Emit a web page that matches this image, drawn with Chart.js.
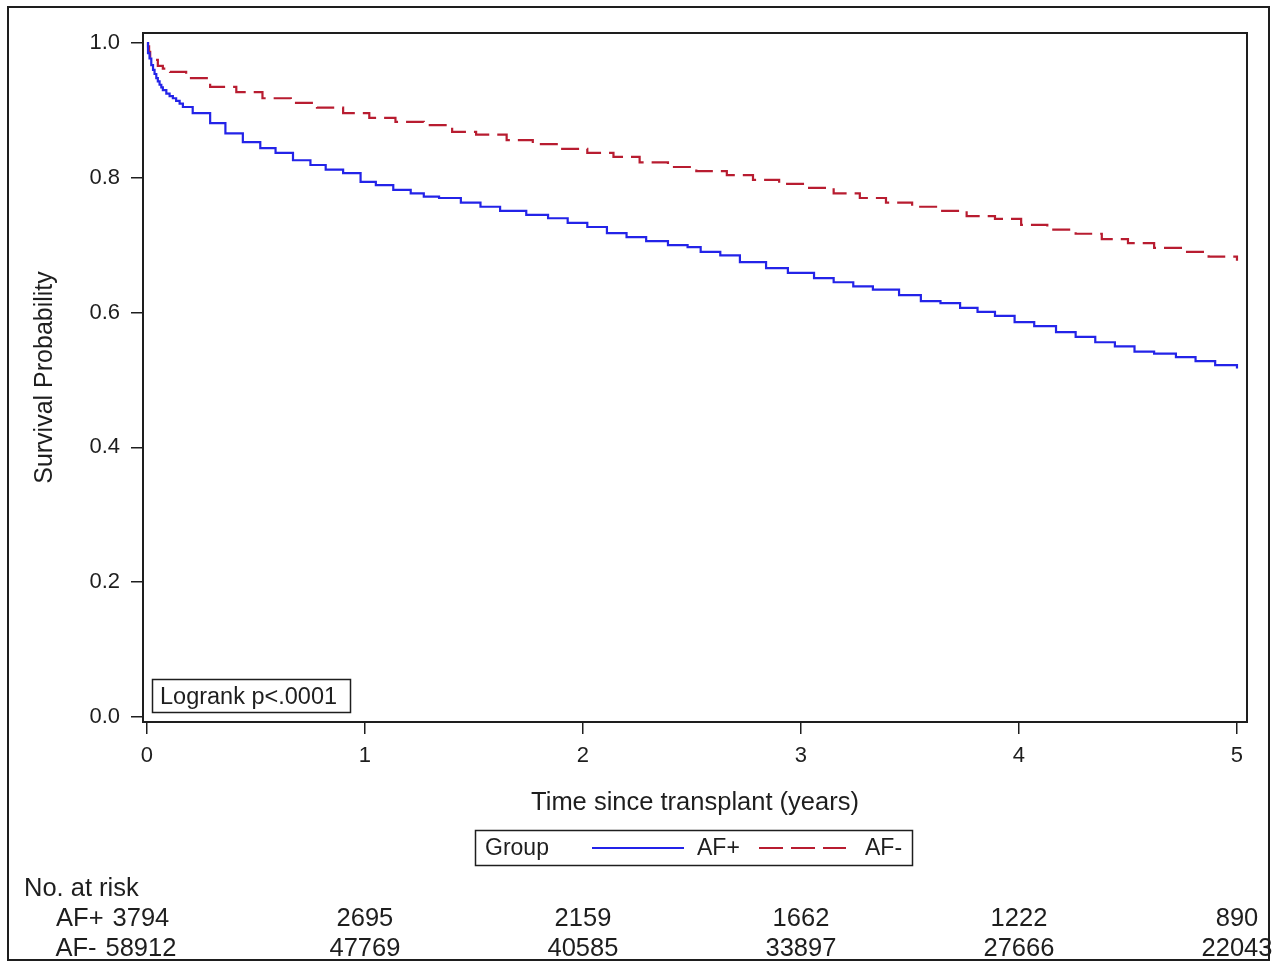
<!DOCTYPE html>
<html>
<head>
<meta charset="utf-8">
<title>Survival by AF group</title>
<script src="https://cdn.jsdelivr.net/npm/chart.js@4.4.0/dist/chart.umd.min.js"></script>
<style>
	html, body { margin: 0; padding: 0; background: #fff; }
</style>
</head>
<body>
<canvas id="km-chart" width="1282" height="962"></canvas>
<script>
// Kaplan-Meier estimates (years, survival)
var afPosTime = [0, 0.005, 0.012, 0.020, 0.028, 0.035, 0.043, 0.050, 0.058, 0.066, 0.073, 0.089, 0.104, 0.119, 0.134, 0.150, 0.165,
	0.21, 0.29, 0.36, 0.44, 0.52, 0.59, 0.67, 0.75, 0.82, 0.90, 0.98,
	1.05, 1.13, 1.21, 1.27, 1.34, 1.44, 1.53, 1.62, 1.74, 1.84, 1.93, 2.02, 2.11, 2.20, 2.29, 2.39, 2.48, 2.54,
	2.63, 2.72, 2.84, 2.94, 3.06, 3.15, 3.24, 3.33, 3.45, 3.55, 3.64, 3.73, 3.81, 3.89, 3.98, 4.07, 4.17, 4.26,
	4.35, 4.44, 4.53, 4.62, 4.72, 4.81, 4.90, 5.00];
var afPosSurv = [1.0, 0.985, 0.977, 0.967, 0.960, 0.954, 0.948, 0.943, 0.938, 0.934, 0.930, 0.925, 0.921, 0.918, 0.914, 0.910, 0.905,
	0.896, 0.881, 0.866, 0.853, 0.844, 0.837, 0.826, 0.819, 0.812, 0.807, 0.794,
	0.789, 0.782, 0.777, 0.772, 0.770, 0.763, 0.757, 0.751, 0.745, 0.740, 0.733, 0.727, 0.718, 0.712, 0.706, 0.700, 0.697, 0.690,
	0.685, 0.675, 0.666, 0.659, 0.651, 0.645, 0.639, 0.634, 0.626, 0.617, 0.614, 0.607, 0.601, 0.595, 0.586, 0.580, 0.571, 0.564,
	0.556, 0.550, 0.542, 0.539, 0.534, 0.528, 0.522, 0.517];
var afNegTime = [0, 0.005, 0.010, 0.015, 0.035, 0.050, 0.073, 0.106, 0.18, 0.29, 0.41, 0.53, 0.66, 0.78, 0.90, 1.02, 1.14, 1.27, 1.40, 1.51,
	1.65, 1.77, 1.89, 2.02, 2.14, 2.26, 2.39, 2.52, 2.66, 2.78, 2.90, 3.03, 3.15, 3.27, 3.39, 3.51, 3.64, 3.76,
	3.89, 4.01, 4.13, 4.26, 4.38, 4.50, 4.62, 4.75, 4.87, 5.00];
var afNegSurv = [1.0, 0.995, 0.987, 0.977, 0.975, 0.966, 0.962, 0.957, 0.948, 0.935, 0.927, 0.918, 0.911, 0.904, 0.896, 0.889, 0.883, 0.878, 0.868, 0.864,
	0.856, 0.850, 0.843, 0.837, 0.831, 0.823, 0.816, 0.810, 0.804, 0.797, 0.791, 0.785, 0.777, 0.770, 0.763, 0.757, 0.751, 0.743,
	0.739, 0.730, 0.723, 0.717, 0.709, 0.703, 0.696, 0.690, 0.683, 0.677];

var groupNames = ["AF+", "AF-"];
var xTicks = [0, 1, 2, 3, 4, 5];
var yTicks = [0, 0.2, 0.4, 0.6, 0.8, 1.0];
var riskTimes = [0, 1, 2, 3, 4, 5];
var riskAfPos = [3794, 2695, 2159, 1662, 1222, 890];
var riskAfNeg = [58912, 47769, 40585, 33897, 27666, 22043];
var pValueText = "Logrank p<.0001";

var fontFamily = "'Liberation Sans', Arial, sans-serif";
var ink = "#1e1e1e";

function toPoints(times, surv) {
	var pts = [];
	for (var i = 0; i < times.length; i++) {
		pts.push({ x: times[i], y: surv[i] });
	}
	return pts;
}

function setTicks(values) {
	return function (scale) {
		scale.ticks = values.map(function (v) { return { value: v }; });
	};
}

// frames, p-value box, legend and risk table
var extras = {
	id: "extras",
	afterDraw: function (chart) {
		var ctx = chart.ctx;
		var a = chart.chartArea;
		var xs = chart.scales.x;
		var ds = chart.data.datasets;
		ctx.save();
		ctx.strokeStyle = ink;
		ctx.lineWidth = 2;
		ctx.strokeRect(a.left, a.top, a.right - a.left, a.bottom - a.top);
		ctx.strokeRect(8, 7, 1261, 953);

		ctx.fillStyle = ink;
		ctx.textBaseline = "alphabetic";

		// logrank box
		ctx.lineWidth = 1.5;
		ctx.strokeRect(152.5, 679.5, 198, 33);
		ctx.font = "23.5px " + fontFamily;
		ctx.textAlign = "left";
		ctx.fillText(pValueText, 160, 704);

		// legend
		ctx.font = "23px " + fontFamily;
		ctx.strokeRect(475.5, 830.5, 437, 35);
		ctx.fillText("Group", 485, 855);
		ctx.lineWidth = 2;
		ctx.strokeStyle = ds[0].borderColor;
		ctx.beginPath();
		ctx.moveTo(592, 848);
		ctx.lineTo(684, 848);
		ctx.stroke();
		ctx.fillText(groupNames[0], 697, 855);
		ctx.strokeStyle = ds[1].borderColor;
		ctx.setLineDash([24, 8]);
		ctx.beginPath();
		ctx.moveTo(759, 848);
		ctx.lineTo(846, 848);
		ctx.stroke();
		ctx.setLineDash([]);
		ctx.fillText(groupNames[1], 865, 855);

		// number at risk
		ctx.font = "25.5px " + fontFamily;
		ctx.fillText("No. at risk", 24, 896);
		var rows = [riskAfPos, riskAfNeg];
		var rowY = [926, 956];
		for (var r = 0; r < rows.length; r++) {
			for (var i = 0; i < riskTimes.length; i++) {
				var px = xs.getPixelForValue(riskTimes[i]);
				var txt = String(rows[r][i]);
				if (i === 0) {
					px -= 6;
				}
				ctx.textAlign = "center";
				ctx.fillText(txt, px, rowY[r]);
				if (i === 0) {
					ctx.textAlign = "right";
					ctx.fillText(groupNames[r], px - ctx.measureText(txt).width / 2 - 9, rowY[r]);
				}
			}
		}
		ctx.restore();
	}
};

var chart = new Chart(document.getElementById("km-chart").getContext("2d"), {
	type: "line",
	data: {
		datasets: [
			{
				label: groupNames[0],
				data: toPoints(afPosTime, afPosSurv),
				borderColor: "#2323e8",
				borderWidth: 2.2,
				stepped: true,
				pointRadius: 0,
				fill: false
			},
			{
				label: groupNames[1],
				data: toPoints(afNegTime, afNegSurv),
				borderColor: "#b81c30",
				borderWidth: 2.2,
				borderDash: [18, 8],
				stepped: true,
				pointRadius: 0,
				fill: false
			}
		]
	},
	options: {
		responsive: false,
		animation: false,
		devicePixelRatio: 1,
		layout: { padding: { top: 33, right: 35, bottom: 140, left: 0 } },
		plugins: {
			legend: { display: false },
			tooltip: { enabled: false }
		},
		scales: {
			x: {
				type: "linear",
				min: -0.018,
				max: 5.046,
				afterBuildTicks: setTicks(xTicks),
				afterFit: function (scale) { scale.height = 100; },
				border: { display: false },
				grid: { drawOnChartArea: false, drawTicks: true, tickLength: 12, tickColor: ink, lineWidth: 1.5 },
				ticks: {
					padding: 9,
					color: ink,
					font: { family: fontFamily, size: 22 },
					maxRotation: 0,
					callback: function (v) { return String(v); }
				},
				title: {
					display: true,
					text: "Time since transplant (years)",
					color: ink,
					font: { family: fontFamily, size: 25.5 },
					padding: { top: 0, bottom: 4 }
				}
			},
			y: {
				type: "linear",
				min: -0.0074,
				max: 1.0148,
				afterBuildTicks: setTicks(yTicks),
				afterFit: function (scale) { scale.width = 143; },
				border: { display: false },
				grid: { drawOnChartArea: false, drawTicks: true, tickLength: 12, tickColor: ink, lineWidth: 1.5 },
				ticks: {
					padding: 11,
					color: ink,
					font: { family: fontFamily, size: 22 },
					callback: function (v) { return v.toFixed(1); }
				},
				title: {
					display: true,
					text: "Survival Probability",
					color: ink,
					font: { family: fontFamily, size: 25 },
					padding: { top: 30, bottom: 0 }
				}
			}
		}
	},
	plugins: [extras]
});
</script>
</body>
</html>
